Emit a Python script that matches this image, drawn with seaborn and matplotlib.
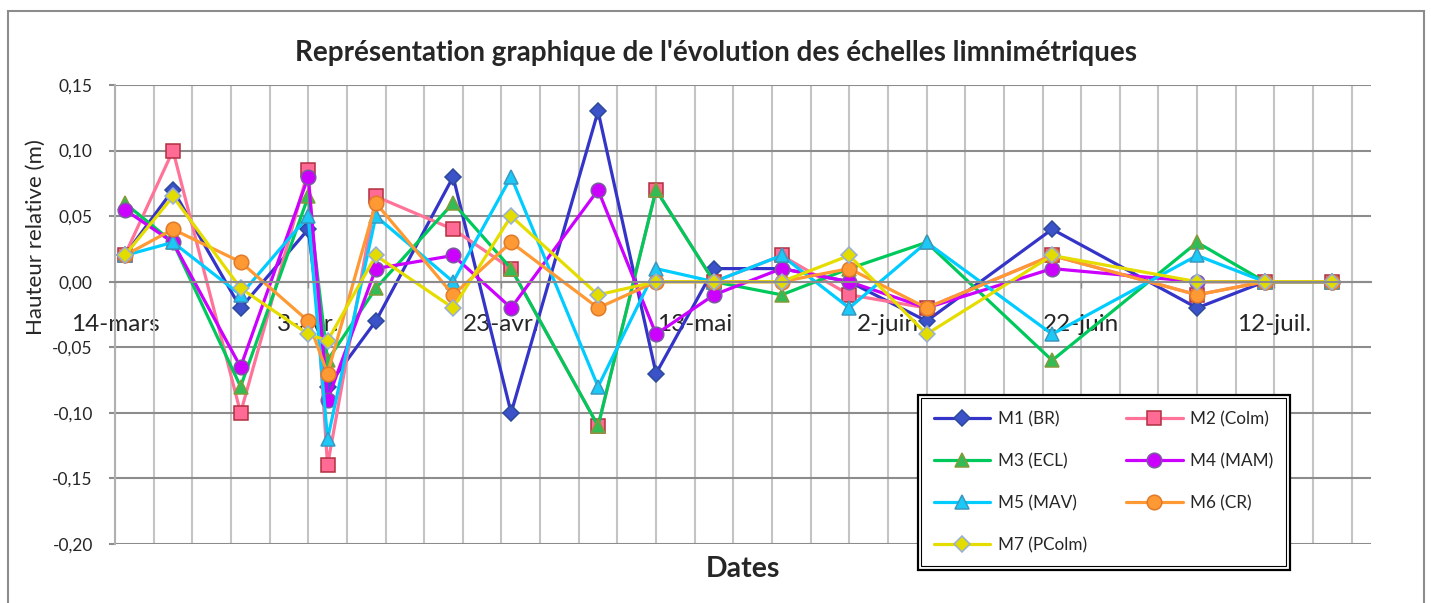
import matplotlib
matplotlib.use("Agg")
import matplotlib.pyplot as plt
from matplotlib.patches import Rectangle
from matplotlib.ticker import FuncFormatter
import seaborn as sns
import pandas as pd

# Dates des relevés
dates = ["2013-03-15", "2013-03-20", "2013-03-27", "2013-04-03", "2013-04-05", "2013-04-10",
         "2013-04-18", "2013-04-24", "2013-05-03", "2013-05-09", "2013-05-15", "2013-05-22",
         "2013-05-29", "2013-06-06", "2013-06-19", "2013-07-04", "2013-07-11", "2013-07-18"]

# Hauteurs relatives (m) par échelle
m1 = [0.02, 0.07, -0.02, 0.04, -0.08, -0.03, 0.08, -0.10, 0.13, -0.07, 0.01, 0.01, 0.00, -0.03, 0.04, -0.02, 0.00, 0.00]
m2 = [0.02, 0.10, -0.10, 0.085, -0.14, 0.065, 0.04, 0.01, -0.11, 0.07, 0.00, 0.02, -0.01, -0.02, 0.02, -0.01, 0.00, 0.00]
m3 = [0.06, 0.03, -0.08, 0.065, -0.06, -0.005, 0.06, 0.01, -0.11, 0.07, 0.00, -0.01, 0.01, 0.03, -0.06, 0.03, 0.00, 0.00]
m4 = [0.055, 0.03, -0.065, 0.08, -0.09, 0.01, 0.02, -0.02, 0.07, -0.04, -0.01, 0.01, 0.00, -0.02, 0.01, 0.00, 0.00, 0.00]
m5 = [0.02, 0.03, -0.01, 0.05, -0.12, 0.05, 0.00, 0.08, -0.08, 0.01, 0.00, 0.02, -0.02, 0.03, -0.04, 0.02, 0.00, 0.00]
m6 = [0.02, 0.04, 0.015, -0.03, -0.07, 0.06, -0.01, 0.03, -0.02, 0.00, 0.00, 0.00, 0.01, -0.02, 0.02, -0.01, 0.00, 0.00]
m7 = [0.02, 0.065, -0.005, -0.04, -0.045, 0.02, -0.02, 0.05, -0.01, 0.00, 0.00, 0.00, 0.02, -0.04, 0.02, 0.00, 0.00, 0.00]

series_names = ["M1 (BR)", "M2 (Colm)", "M3 (ECL)", "M4 (MAM)", "M5 (MAV)", "M6 (CR)", "M7 (PColm)"]
tick_labels = ["14-mars", "3-avr.", "23-avr.", "13-mai", "2-juin", "22-juin", "12-juil."]

# style: (line colour, marker, face, edge, size)
styles = [
    ("#3434c8", "D", "#3c52c8", "#2c4a9c", 8.5),
    ("#ff7399", "s", "#ff6b95", "#b0303f", 10),
    ("#00c95c", "^", "#33bb55", "#869a3a", 10),
    ("#cc00ff", "o", "#cc00ff", "#7a5c9e", 10.5),
    ("#00ccff", "^", "#1cc8f5", "#3a98c0", 10),
    ("#ff9933", "o", "#ff9933", "#e07a2a", 10.5),
    ("#e6dd00", "D", "#e2dc00", "#98aed8", 8.5),
]

sns.set_theme(style="white")
plt.rcParams['font.family'] = ['Lato', 'DejaVu Sans']

x = pd.to_datetime(dates)
fig = plt.figure(figsize=(14.31, 6.03), dpi=100)
ax = fig.add_axes([115 / 1431, 1 - 544 / 603, (1371 - 115) / 1431, (544 - 85) / 603])

handles = []
for name, vals, (lc, mk, fc, ec, ms) in zip(series_names, [m1, m2, m3, m4, m5, m6, m7], styles):
    sns.lineplot(x=x, y=vals, ax=ax, color=lc, lw=2.3, marker=mk, markersize=ms,
                 markerfacecolor=fc, markeredgecolor=ec, markeredgewidth=1.1, label=name)
    handles.append(ax.lines[-1])

start = pd.Timestamp("2013-03-14")
ax.set_xlim(start, start + pd.Timedelta(days=130))
ax.set_ylim(-0.20, 0.15)
ax.set_yticks([-0.20, -0.15, -0.10, -0.05, 0.00, 0.05, 0.10, 0.15])
ax.yaxis.set_major_formatter(FuncFormatter(lambda v, p: f"{v:.2f}".replace(".", ",")))

ax.set_xticks(pd.date_range(start, periods=7, freq="20D"))
ax.set_xticklabels(tick_labels)
ax.set_xticks(pd.date_range(start, periods=33, freq="4D"), minor=True)

ax.set_axisbelow(True)
ax.yaxis.grid(True, which="major", color="#8c8c8c", lw=1.5)
ax.xaxis.grid(True, which="both", color="#c4c4c4", lw=1.5)

for s in ["top", "right"]:
    ax.spines[s].set_visible(False)
ax.spines["left"].set_color("#b0b0b0")
ax.spines["left"].set_linewidth(1.5)
ax.spines["bottom"].set_position(("data", 0))
ax.spines["bottom"].set_color("#8c8c8c")
ax.spines["bottom"].set_linewidth(1.5)

ax.tick_params(axis="x", which="major", labelsize=17.5, length=4, width=1, color="#8c8c8c", pad=19, bottom=True)
ax.tick_params(axis="x", which="minor", length=0)
ax.tick_params(axis="y", labelsize=12.5, length=4, width=1.5, color="#8c8c8c", pad=12, left=True)
ax.set_xlabel("")
ax.set_ylabel("")

fig.text(716 / 1431, 1 - 53 / 603, "Représentation graphique de l'évolution des échelles limnimétriques",
         ha="center", va="center", fontsize=20, fontweight="bold")
fig.text(36 / 1431, 1 - 237 / 603, "Hauteur relative (m)", rotation=90, ha="center", va="center", fontsize=16)
fig.text(743 / 1431, 1 - 569 / 603, "Dates", ha="center", va="center", fontsize=20.5, fontweight="bold")

# legend rows: M1 M2 / M3 M4 / M5 M6 / M7
order = [0, 2, 4, 6, 1, 3, 5]
leg = ax.legend([handles[i] for i in order], [series_names[i] for i in order],
                ncol=2, loc="upper left", bbox_to_anchor=(0.639, 0.325), borderaxespad=0,
                fontsize=12.3, handlelength=3.3, handletextpad=0.45, columnspacing=2.3,
                labelspacing=1.52, borderpad=0.95, frameon=True, fancybox=False,
                edgecolor="black", framealpha=1)
leg.get_frame().set_linewidth(1.6)

# chart area border
fig.add_artist(Rectangle((8 / 1431, -0.05), 1416 / 1431, 1 - 11 / 603 + 0.05,
                         transform=fig.transFigure, fill=False, edgecolor="#8c8c8c", lw=1.5))

# inner line of the double legend frame
fig.canvas.draw()
bb = leg.get_window_extent()
inv = fig.transFigure.inverted()
(x0, y0), (x1, y1) = inv.transform([(bb.x0 + 3.5, bb.y0 + 3.5), (bb.x1 - 3.5, bb.y1 - 3.5)])
fig.add_artist(Rectangle((x0, y0), x1 - x0, y1 - y0, transform=fig.transFigure,
                         fill=False, edgecolor="black", lw=0.8, zorder=5))

fig.savefig("out.png", dpi=100)
